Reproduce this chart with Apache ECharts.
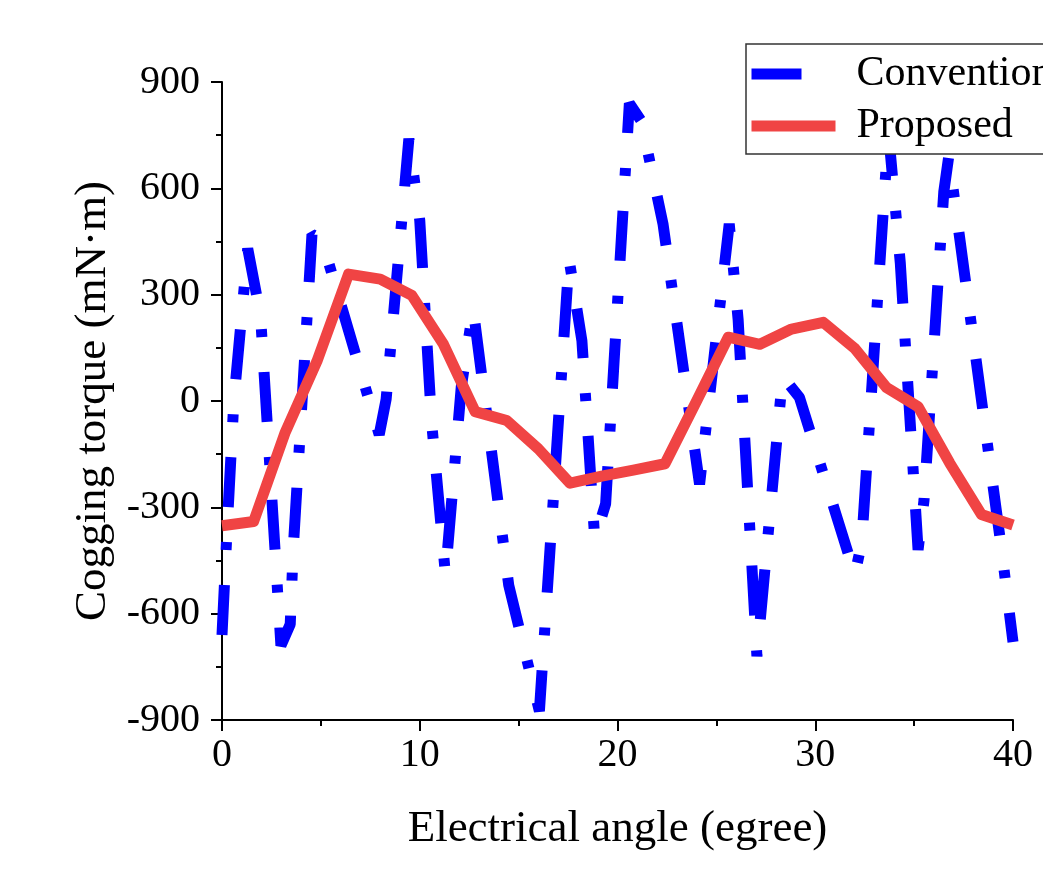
<!DOCTYPE html>
<html>
<head>
<meta charset="utf-8">
<title>Cogging torque</title>
<script src="https://cdn.jsdelivr.net/npm/echarts@6/dist/echarts.min.js"></script>
<style>
  html, body { margin: 0; padding: 0; background: #fff; }
  #chart { width: 1043px; height: 873px; }
</style>
</head>
<body>
<div id="chart"></div>
<script>
// values (electrical angle in degrees, torque in mN·m)
const conventionalX = [0, 0.25, 0.6, 1.3, 1.95, 2.98, 3.45, 3.6, 4.55, 5.05, 7.95, 8.3, 9.45, 10.0, 10.6, 11.3, 12.1, 12.7, 14.5, 16.05,
  17.55, 18.2, 18.85, 19.4, 20.6, 21.2, 22.3, 24.15, 25.65, 26.1, 27.05, 28.35, 29.2, 32.0, 32.35, 33.7, 34.3, 35.2, 35.5, 36.5, 36.75, 39.4, 40];
const conventionalY = [-660, -370, 0, 430, 240, -690, -630, -420, 470, 455, -95, 5, 740, 510, -60, -490, 40, 260, -520, -875,
  400, 170, -390, -290, 840, 790, 500, -235, 500, 230, -720, 70, 10, -490, -400, 760, 390, -420, -280, 590, 690, -410, -680];

const proposedX = [0, 1.6, 3.2, 4.8, 6.4, 8.0, 9.6, 11.2, 12.8, 14.4, 16.0, 17.6, 19.2, 20.8, 22.4, 24.0, 25.6, 27.2, 28.8, 30.4, 32.0, 33.6, 35.2, 36.8, 38.4, 40.0];
const proposedY = [-352, -340, -88, 112, 358, 344, 298, 160, -30, -55, -135, -232, -212, -195, -177, 0, 180, 160, 203, 222, 148, 38, -16, -175, -320, -350];

const seriesNames = ['Conventional', 'Proposed'];

const pairs = (xs, ys) => xs.map((x, i) => [x, ys[i]]);

const font = 'Liberation Serif';

const chart = echarts.init(document.getElementById('chart'));

const axisCommon = {
  type: 'value',
  nameLocation: 'middle',
  nameTextStyle: { fontFamily: font, fontSize: 45, color: '#000' },
  axisLine: { show: true, onZero: false, lineStyle: { color: '#000', width: 2 } },
  axisTick: { show: true, inside: false, length: 11, lineStyle: { color: '#000', width: 2 } },
  minorTick: { show: true, splitNumber: 2, length: 6, lineStyle: { color: '#000', width: 2 } },
  splitLine: { show: false },
  axisLabel: { fontFamily: font, fontSize: 40, color: '#000' }
};

chart.setOption({
  animation: false,
  backgroundColor: '#fff',
  grid: { left: 222, right: 30, top: 82, bottom: 153, containLabel: false, outerBoundsMode: 'none' },
  xAxis: Object.assign({}, axisCommon, {
    name: 'Electrical angle (egree)',
    nameGap: 87,
    min: 0,
    max: 40,
    interval: 10,
    axisLabel: Object.assign({}, axisCommon.axisLabel, { margin: 15 })
  }),
  yAxis: Object.assign({}, axisCommon, {
    name: 'Cogging torque (mN·m)',
    nameGap: 103,
    min: -900,
    max: 900,
    interval: 300,
    axisLabel: Object.assign({}, axisCommon.axisLabel, { margin: 22 })
  }),
  legend: {
    orient: 'vertical',
    left: 746,
    top: 44,
    padding: [8, 10, 6, 0],
    itemWidth: 84,
    itemHeight: 14,
    itemGap: 8,
    selectedMode: false,
    backgroundColor: '#fff',
    borderColor: '#333',
    borderWidth: 1.5,
    borderRadius: 0,
    itemStyle: { opacity: 0 },
    lineStyle: { width: 11 },
    textStyle: { fontFamily: font, fontSize: 42, color: '#000', lineHeight: 44, padding: [0, 0, 0, 16] },
    data: seriesNames
  },
  series: [
    {
      name: seriesNames[0],
      type: 'line',
      data: pairs(conventionalX, conventionalY),
      symbol: 'none',
      color: '#0000ff',
      lineStyle: { color: '#0000ff', width: 11, type: [50, 35, 8, 35], cap: 'butt', join: 'bevel' },
      z: 2
    },
    {
      name: seriesNames[1],
      type: 'line',
      data: pairs(proposedX, proposedY),
      symbol: 'none',
      color: '#f04444',
      lineStyle: { color: '#f04444', width: 11, join: 'round' },
      z: 3
    }
  ]
});
</script>
</body>
</html>
